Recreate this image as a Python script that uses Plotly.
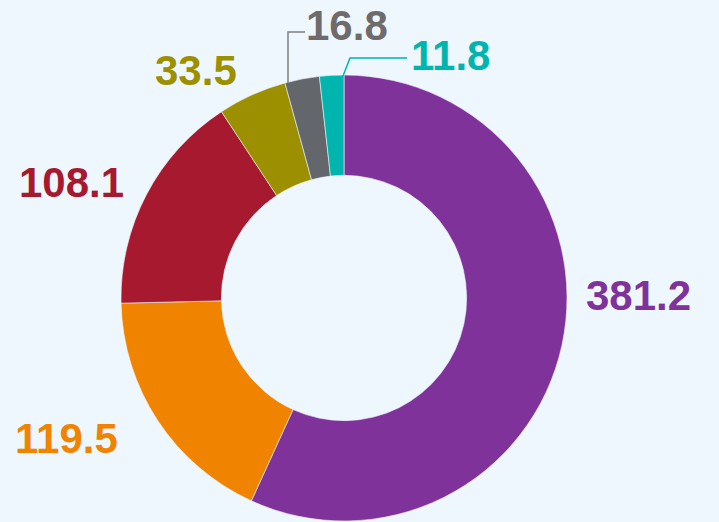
import plotly.graph_objects as go

W, H = 719, 522

values = [381.2, 119.5, 108.1, 33.5, 16.8, 11.8]
labels = ["381.2", "119.5", "108.1", "33.5", "16.8", "11.8"]
slice_colors = ["#80329B", "#F08300", "#A6192E", "#9C9000", "#63666A", "#00B5AD"]
text_colors = ["#80329B", "#F08300", "#A6192E", "#9C9000", "#6F6B6B", "#00B5AD"]

# label centres in pixels (x, y from top)
label_pos = [(638, 295), (66, 438), (71, 182), (196, 70), (347, 26), (451, 55)]


def px_x(x):
    return x / W


def px_y(y):
    return 1 - y / H


fig = go.Figure(go.Pie(
    values=values,
    labels=labels,
    sort=False,
    direction="clockwise",
    rotation=0,
    hole=0.55,
    textinfo="none",
    marker=dict(colors=slice_colors, line=dict(color="#EEF7FD", width=0.6)),
    domain=dict(x=[px_x(344 - 223), px_x(344 + 223)], y=[px_y(521), px_y(75)]),
    showlegend=False,
))

for lab, col, (x, y) in zip(labels, text_colors, label_pos):
    fig.add_annotation(
        x=px_x(x), y=px_y(y), xref="paper", yref="paper",
        text="<b>%s</b>" % lab, showarrow=False,
        xanchor="center", yanchor="middle",
        font=dict(family="Liberation Sans, Arial", size=42, color=col),
    )

# leader lines for the two small slices
fig.add_shape(type="path", xref="paper", yref="paper",
              path="M %f %f L %f %f L %f %f" % (px_x(288), px_y(83), px_x(288), px_y(32), px_x(305), px_y(32)),
              line=dict(color="#7F7F7F", width=1.5))
fig.add_shape(type="path", xref="paper", yref="paper",
              path="M %f %f L %f %f L %f %f" % (px_x(343), px_y(76), px_x(350), px_y(58), px_x(407), px_y(58)),
              line=dict(color="#00B5AD", width=1.5))

fig.update_layout(
    width=W, height=H,
    margin=dict(l=0, r=0, t=0, b=0),
    paper_bgcolor="#EEF7FD",
    plot_bgcolor="#EEF7FD",
)

fig.write_html("out.html", config={"displayModeBar": False},
               post_script="document.body.style.margin='0';document.body.style.overflow='hidden';")
